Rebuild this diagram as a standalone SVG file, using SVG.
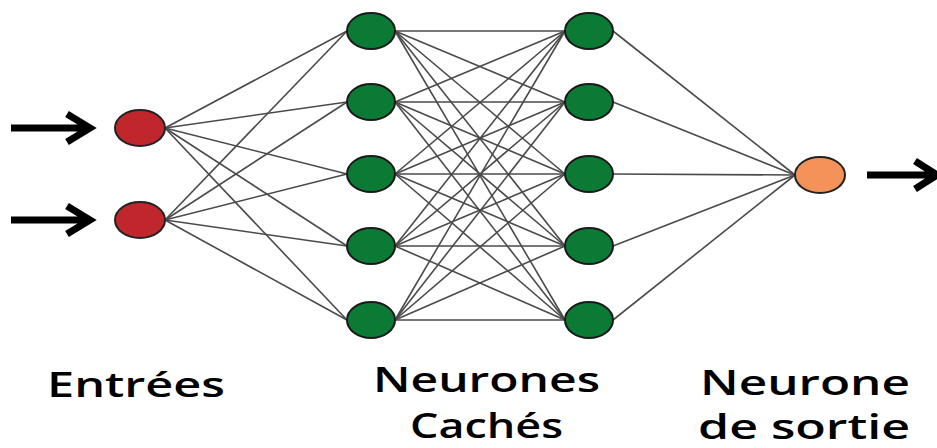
<svg xmlns="http://www.w3.org/2000/svg" width="937" height="448" viewBox="0 0 937 448">
<defs>
<style>
.in{fill:#c0272d;stroke:#222;stroke-width:2}
.hid{fill:#0a7a35;stroke:#1a1a1a;stroke-width:2}
.out{fill:#f4925a;stroke:#222;stroke-width:2}
.c line{stroke:#4a4a4a;stroke-width:1.6}
.arr{fill:none;stroke:#000;stroke-width:7;stroke-linecap:butt;stroke-linejoin:miter}
.lbl{font-family:"Open Sans","Liberation Sans",sans-serif;font-weight:600;font-size:35px;fill:#000}
</style>
</defs>
<rect width="937" height="448" fill="#fff"/>
<g id="connectors" class="c">
<line x1="165" y1="128" x2="347" y2="31"/><line x1="165" y1="128" x2="347" y2="102"/><line x1="165" y1="128" x2="347" y2="174"/><line x1="165" y1="128" x2="347" y2="246"/><line x1="165" y1="128" x2="347" y2="320"/>
<line x1="165" y1="220" x2="347" y2="31"/><line x1="165" y1="220" x2="347" y2="102"/><line x1="165" y1="220" x2="347" y2="174"/><line x1="165" y1="220" x2="347" y2="246"/><line x1="165" y1="220" x2="347" y2="320"/>
<line x1="395" y1="31" x2="565" y2="31"/><line x1="395" y1="31" x2="565" y2="102"/><line x1="395" y1="31" x2="565" y2="174"/><line x1="395" y1="31" x2="565" y2="246"/><line x1="395" y1="31" x2="565" y2="320"/>
<line x1="395" y1="102" x2="565" y2="31"/><line x1="395" y1="102" x2="565" y2="102"/><line x1="395" y1="102" x2="565" y2="174"/><line x1="395" y1="102" x2="565" y2="246"/><line x1="395" y1="102" x2="565" y2="320"/>
<line x1="395" y1="174" x2="565" y2="31"/><line x1="395" y1="174" x2="565" y2="102"/><line x1="395" y1="174" x2="565" y2="174"/><line x1="395" y1="174" x2="565" y2="246"/><line x1="395" y1="174" x2="565" y2="320"/>
<line x1="395" y1="246" x2="565" y2="31"/><line x1="395" y1="246" x2="565" y2="102"/><line x1="395" y1="246" x2="565" y2="174"/><line x1="395" y1="246" x2="565" y2="246"/><line x1="395" y1="246" x2="565" y2="320"/>
<line x1="395" y1="320" x2="565" y2="31"/><line x1="395" y1="320" x2="565" y2="102"/><line x1="395" y1="320" x2="565" y2="174"/><line x1="395" y1="320" x2="565" y2="246"/><line x1="395" y1="320" x2="565" y2="320"/>
<line x1="613" y1="31" x2="795" y2="175"/><line x1="613" y1="102" x2="795" y2="175"/><line x1="613" y1="174" x2="795" y2="175"/><line x1="613" y1="246" x2="795" y2="175"/><line x1="613" y1="320" x2="795" y2="175"/>
<path class="arr" d="M11 128H89M67 114L90 128L67 142"/>
<path class="arr" d="M11 220H89M67 206L90 220L67 234"/>
<path class="arr" d="M867 175H932M915 161L937 175L915 189"/>
</g>
<g id="in1"><ellipse class="in" cx="140" cy="128" rx="25" ry="18"/></g>
<g id="in2"><ellipse class="in" cx="140" cy="220" rx="25" ry="18"/></g>
<g id="h1a"><ellipse class="hid" cx="371" cy="31" rx="24" ry="18"/></g>
<g id="h1b"><ellipse class="hid" cx="371" cy="102" rx="24" ry="18"/></g>
<g id="h1c"><ellipse class="hid" cx="371" cy="174" rx="24" ry="18"/></g>
<g id="h1d"><ellipse class="hid" cx="371" cy="246" rx="24" ry="18"/></g>
<g id="h1e"><ellipse class="hid" cx="371" cy="320" rx="24" ry="18"/></g>
<g id="h2a"><ellipse class="hid" cx="589" cy="31" rx="24" ry="18"/></g>
<g id="h2b"><ellipse class="hid" cx="589" cy="102" rx="24" ry="18"/></g>
<g id="h2c"><ellipse class="hid" cx="589" cy="174" rx="24" ry="18"/></g>
<g id="h2d"><ellipse class="hid" cx="589" cy="246" rx="24" ry="18"/></g>
<g id="h2e"><ellipse class="hid" cx="589" cy="320" rx="24" ry="18"/></g>
<g id="out"><ellipse class="out" cx="820" cy="175" rx="25" ry="18"/></g>
<g id="labels">
<text class="lbl" x="47" y="397" textLength="178" lengthAdjust="spacingAndGlyphs">Entrées</text>
<text class="lbl" x="373" y="392" textLength="227" lengthAdjust="spacingAndGlyphs">Neurones</text>
<text class="lbl" x="410" y="438" textLength="153" lengthAdjust="spacingAndGlyphs">Cachés</text>
<text class="lbl" x="700" y="395" textLength="210" lengthAdjust="spacingAndGlyphs">Neurone</text>
<text class="lbl" x="698" y="439" textLength="212" lengthAdjust="spacingAndGlyphs">de sortie</text>
</g>
</svg>
